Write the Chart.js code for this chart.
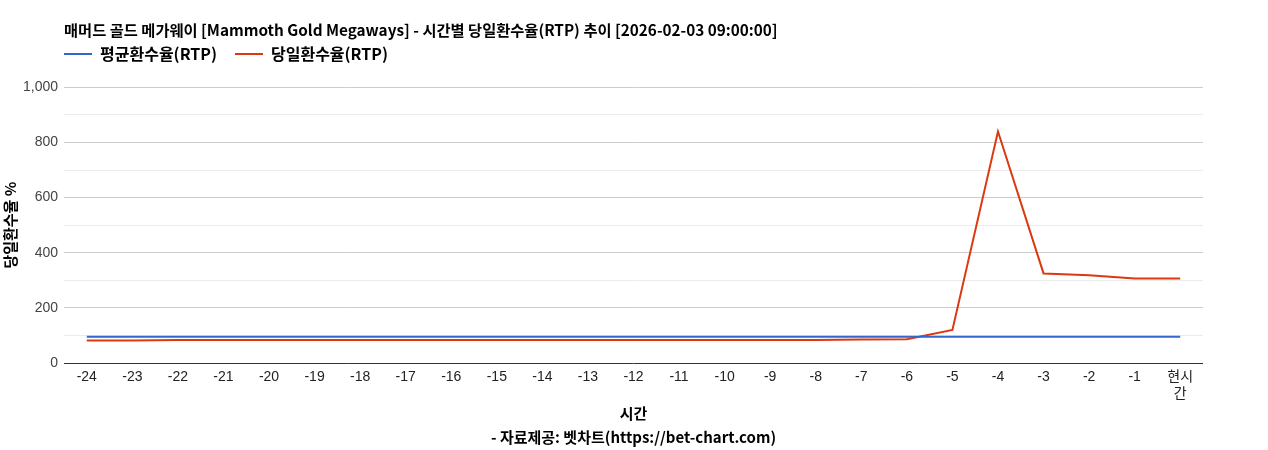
<!DOCTYPE html>
<html>
<head>
<meta charset="utf-8">
<script src="https://cdn.jsdelivr.net/npm/chart.js@4"></script>
<style>
  html, body { margin: 0; padding: 0; background: #fff; }
  #wrap { width: 1268px; height: 450px; }
</style>
</head>
<body>
<div id="wrap"><canvas id="c" width="1268" height="450"></canvas></div>
<script>
const chartTitle = '매머드 골드 메가웨이 [Mammoth Gold Megaways] - 시간별 당일환수율(RTP) 추이 [2026-02-03 09:00:00]';
const xLabels = ['-24','-23','-22','-21','-20','-19','-18','-17','-16','-15','-14','-13','-12','-11','-10','-9','-8','-7','-6','-5','-4','-3','-2','-1',['현시','간']];
const avgName = '평균환수율(RTP)';
const dayName = '당일환수율(RTP)';
const avgRtp = [95,95,95,95,95,95,95,95,95,95,95,95,95,95,95,95,95,95,95,95,95,95,95,95,95];
const dayRtp = [82,82,83,83,83,83,83,83,83,83,83,83,83,83,83,83,83,85,86,120,840,325,318,307,307];
const yTitle = '당일환수율 %';
const xTitle = ['시간', '- 자료제공: 벳차트(https://bet-chart.com)'];

const FONT = "'Liberation Sans', Arial, 'Noto Sans CJK KR', sans-serif";
const BOLD = "'Noto Sans CJK KR', 'Liberation Sans', sans-serif";

const shiftPlugin = {
  id: 'shift',
  afterLayout(chart) {
    if (chart.titleBlock) { chart.titleBlock.left = 64; }
    if (chart.legend) { chart.legend.left = 46; chart.legend.top = 28; }
  }
};

new Chart(document.getElementById('c'), {
  type: 'line',
  data: {
    labels: xLabels,
    datasets: [
      { label: avgName, data: avgRtp, borderColor: '#3366cc', backgroundColor: '#3366cc', borderWidth: 2, pointRadius: 0, tension: 0 },
      { label: dayName, data: dayRtp, borderColor: '#dc3912', backgroundColor: '#dc3912', borderWidth: 2, pointRadius: 0, tension: 0 }
    ]
  },
  options: {
    responsive: false,
    animation: false,
    devicePixelRatio: 1,
    layout: { padding: { left: 0, right: 65, top: 0, bottom: 0 } },
    plugins: {
      title: {
        display: true,
        text: chartTitle,
        align: 'start',
        color: '#000',
        font: { family: BOLD, size: 15.3, weight: 'bold' },
        padding: { top: 21, bottom: 4 }
      },
      legend: {
        display: true,
        align: 'start',
        labels: {
          usePointStyle: true,
          pointStyle: 'line',
          pointStyleWidth: 28,
          color: '#000',
          font: { family: BOLD, size: 16, weight: 'bold' },
          padding: 18
        }
      },
      tooltip: { enabled: false }
    },
    scales: {
      x: {
        offset: true,
        grid: { display: false, drawTicks: false },
        border: { display: false },
        ticks: { color: '#222', font: { family: FONT, size: 14 }, padding: 6, maxRotation: 0, autoSkip: false },
        title: { display: true, text: xTitle, color: '#000', font: { family: BOLD, size: 15, weight: 'bold', lineHeight: 1.6 }, padding: { top: 0, bottom: 1 } },
        afterFit(scale) { scale.height = 87; }
      },
      y: {
        min: 0, max: 1000,
        border: { display: false },
        grid: {
          drawTicks: false,
          color: (ctx) => ctx.tick.value === 0 ? '#333' : (ctx.tick.value % 200 === 0 ? '#cccccc' : '#ebebeb'),
          lineWidth: 1
        },
        ticks: {
          stepSize: 100,
          padding: 6,
          color: '#444',
          font: { family: FONT, size: 14 },
          callback: (v) => v % 200 === 0 ? v.toLocaleString('en-US') : ''
        },
        title: { display: true, text: yTitle, color: '#000', font: { family: BOLD, size: 15, weight: 'bold' }, padding: { top: 1, bottom: 0 } },
        afterFit(scale) { scale.width = 64; }
      }
    }
  },
  plugins: [shiftPlugin]
});
</script>
</body>
</html>
